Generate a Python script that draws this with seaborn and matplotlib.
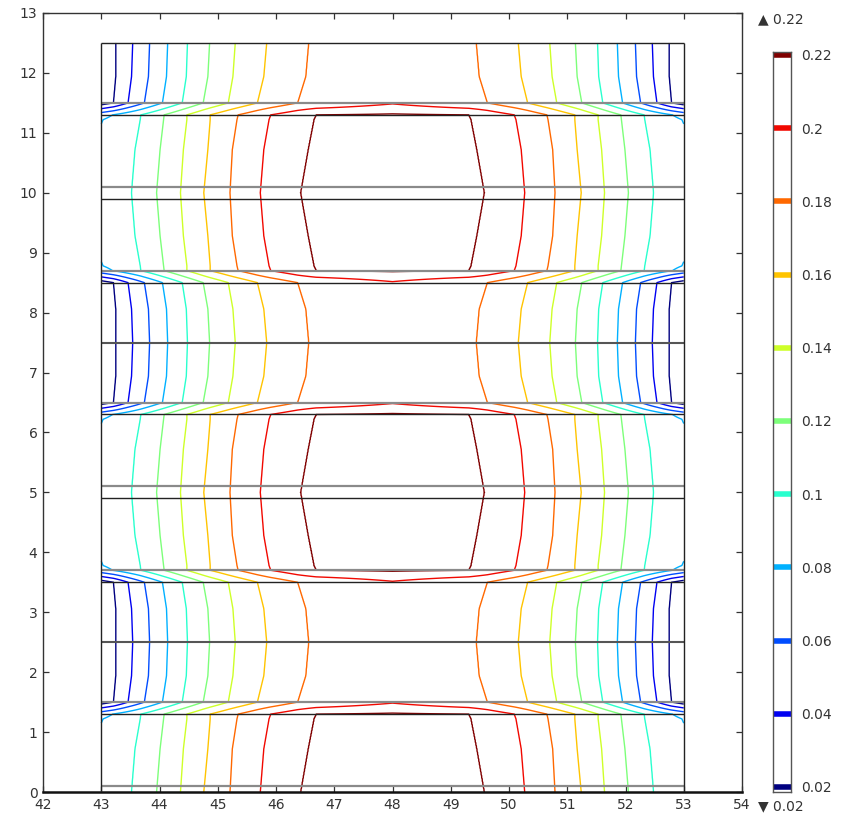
import numpy as np
import matplotlib
matplotlib.use("Agg")
import matplotlib.pyplot as plt
import seaborn as sns

sns.set_theme(style="white")
plt.rcParams['font.family'] = ['DejaVu Sans']

# ---------------- data ----------------
levels = [0.02, 0.04, 0.06, 0.08, 0.10, 0.12, 0.14, 0.16, 0.18, 0.20, 0.22]
level_labels = ["0.02", "0.04", "0.06", "0.08", "0.1", "0.12", "0.14", "0.16", "0.18", "0.2", "0.22"]

# contour crossing positions (left half, x) with their values, at several
# distances t from the centre of a "B" band (period of 5 in y, mirrored about x=48)
b_mid_t = 0.0
b_mid_x = [43.0, 43.52, 43.95, 44.36, 44.76, 45.21, 45.73, 46.42, 48.0]
b_mid_z = [0.087, 0.10, 0.12, 0.14, 0.16, 0.18, 0.20, 0.22, 0.224]

b_q_t = 0.72
b_q_x = [43.0, 43.58, 44.01, 44.41, 44.83, 45.25, 45.79, 46.55, 48.0]
b_q_z = [0.086, 0.10, 0.12, 0.14, 0.16, 0.18, 0.20, 0.22, 0.2235]

b_near_t = 1.22
b_near_x = [43.0, 43.67, 44.07, 44.47, 44.87, 45.33, 45.88, 46.65, 48.0]
b_near_z = [0.079, 0.10, 0.12, 0.14, 0.16, 0.18, 0.20, 0.22, 0.2225]

b_edge_t = 1.30
b_edge_x = [43.0, 43.68, 44.08, 44.47, 44.87, 45.35, 45.91, 46.69, 48.0]
b_edge_z = [0.072, 0.10, 0.12, 0.14, 0.16, 0.18, 0.20, 0.22, 0.222]

a_edge_t = 1.50
a_edge_x = [43.0, 43.21, 43.46, 43.74, 44.05, 44.39, 44.75, 45.18, 45.68, 46.37, 48.0]
a_edge_z = [0.010, 0.02, 0.04, 0.06, 0.08, 0.10, 0.12, 0.14, 0.16, 0.18, 0.198]

a_q_t = 1.94
a_q_x = [43.0, 43.25, 43.52, 43.81, 44.12, 44.46, 44.83, 45.26, 45.79, 46.51, 48.0]
a_q_z = [0.010, 0.02, 0.04, 0.06, 0.08, 0.10, 0.12, 0.14, 0.16, 0.18, 0.195]

a_mid_t = 2.50
a_mid_x = [43.0, 43.25, 43.54, 43.83, 44.14, 44.48, 44.86, 45.30, 45.84, 46.56, 48.0]
a_mid_z = [0.010, 0.02, 0.04, 0.06, 0.08, 0.10, 0.12, 0.14, 0.16, 0.18, 0.194]

# structure (layer) lines
gray_lines_y = [0.1, 1.5, 3.7, 5.1, 6.5, 8.7, 10.1, 11.5]
dark_lines_y = [2.5, 7.5]
black_lines_y = [1.3, 3.5, 4.9, 6.3, 8.5, 9.9, 11.3, 12.5]
domain_x = [43.0, 53.0]
domain_y = [0.0, 12.5]

xticks = list(range(42, 55))
yticks = list(range(0, 14))

# ---------------- field on grid ----------------
b_rows = [(b_mid_t, b_mid_x, b_mid_z), (b_q_t, b_q_x, b_q_z),
          (b_near_t, b_near_x, b_near_z), (b_edge_t, b_edge_x, b_edge_z)]
a_rows = [(a_edge_t, a_edge_x, a_edge_z), (a_q_t, a_q_x, a_q_z), (a_mid_t, a_mid_x, a_mid_z)]

xg = np.linspace(domain_x[0], domain_x[1], 1001)
yg = np.linspace(domain_y[0], domain_y[1], 1251)
xl = 48.0 - np.abs(xg - 48.0)


def band_profile(rows, t):
    ts = np.array([r[0] for r in rows])
    xs = np.array([r[1] for r in rows])
    zs = np.array([r[2] for r in rows])
    px = np.array([np.interp(t, ts, xs[:, k]) for k in range(xs.shape[1])])
    pz = np.array([np.interp(t, ts, zs[:, k]) for k in range(zs.shape[1])])
    return np.interp(xl, px, pz)


prof_b_edge = band_profile(b_rows, b_edge_t)
prof_a_edge = band_profile(a_rows, a_edge_t)

tm = np.mod(yg, 5.0)
tg = np.minimum(tm, 5.0 - tm)
Z = np.empty((len(yg), len(xg)))
for i, t in enumerate(tg):
    if t <= b_edge_t:
        Z[i] = band_profile(b_rows, t)
    elif t >= a_edge_t:
        Z[i] = band_profile(a_rows, t)
    else:
        w = (t - b_edge_t) / (a_edge_t - b_edge_t)
        Z[i] = (1 - w) * prof_b_edge + w * prof_a_edge
X, Y = np.meshgrid(xg, yg)

cmap = plt.get_cmap("jet")
colors = [cmap(i / (len(levels) - 1)) for i in range(len(levels))]

# ---------------- figure ----------------
W, H = 841, 817
fig = plt.figure(figsize=(W / 100, H / 100), dpi=100)
ax = fig.add_axes([43 / W, (H - 792) / H, 699 / W, 779 / H])

ax.contour(X, Y, Z, levels=levels, colors=colors, linewidths=1.0)

ax.hlines(gray_lines_y, domain_x[0], domain_x[1], colors="#8a8a8a", linewidth=1.6, zorder=3)
ax.hlines(dark_lines_y, domain_x[0], domain_x[1], colors="#555555", linewidth=1.5, zorder=3)
ax.hlines(black_lines_y, domain_x[0], domain_x[1], colors="#222222", linewidth=1.0, zorder=3)
ax.vlines(domain_x, domain_y[0], domain_y[1], colors="#222222", linewidth=1.0, zorder=3)

ax.set_xlim(42, 54)
ax.set_ylim(0, 13)
ax.set_xticks(xticks)
ax.set_yticks(yticks)
ax.tick_params(direction="in", length=4, width=0.9, colors="#333333", labelsize=10,
               top=True, right=True, bottom=True, left=True, pad=4)
for s in ["left", "top", "right"]:
    ax.spines[s].set_color("#333333")
    ax.spines[s].set_linewidth(1.0)
ax.spines["bottom"].set_color("#111111")
ax.spines["bottom"].set_linewidth(1.8)

# ---------------- legend bar ----------------
cax = fig.add_axes([773 / W, (H - 792) / H, 18 / W, 740 / H])
cax.set_xlim(0, 1)
cax.set_ylim(0.01863, 0.2208)
cax.hlines(levels, 0, 1, colors=colors, linewidth=4)
cax.set_xticks([])
cax.set_yticks(levels)
cax.set_yticklabels(level_labels)
cax.tick_params(axis="y", left=True, right=True, labelleft=False, labelright=True,
                direction="in", length=3, width=0.9, colors="#222222", labelsize=10, pad=7)
for lab in cax.get_yticklabels():
    lab.set_color("#333333")
for s in cax.spines.values():
    s.set_color("#555555")
    s.set_linewidth(1.0)

fig.text(758 / W, 1 - 19 / H, "\u25b2 0.22", fontsize=10, color="#333333", ha="left", va="center")
fig.text(758 / W, 1 - 806 / H, "\u25bc 0.02", fontsize=10, color="#333333", ha="left", va="center")

fig.savefig("out.png", dpi=100)
